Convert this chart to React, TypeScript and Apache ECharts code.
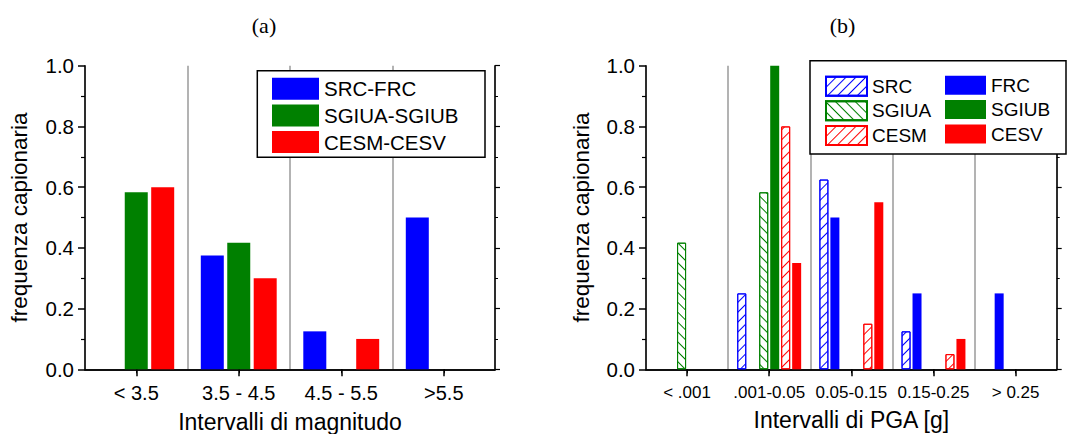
import React, { useEffect, useRef } from "react";
import * as echarts from "echarts";

// ---------- data ----------
const magCategories = ["< 3.5", "3.5 - 4.5", "4.5 - 5.5", ">5.5"];
const magSrcFrc = [null, 0.375, 0.125, 0.5];
const magSgiuaSgiub = [0.583, 0.417, null, null];
const magCesmCesv = [0.6, 0.3, 0.1, null];

const pgaCategories = ["< .001", ".001-0.05", "0.05-0.15", "0.15-0.25", "> 0.25"];
const pgaSRC = [null, 0.25, 0.625, 0.125, null];
const pgaFRC = [null, null, 0.5, 0.25, 0.25];
const pgaSGIUA = [0.417, 0.583, null, null, null];
const pgaSGIUB = [null, 1.0, null, null, null];
const pgaCESM = [null, 0.8, 0.15, 0.05, null];
const pgaCESV = [null, 0.35, 0.55, 0.1, null];

const yTicks = [0, 1, 0.2];

const BLUE = "#0000ff";
const GREEN = "#008000";
const RED = "#ff0000";
const FONT = "'Liberation Sans', Arial, sans-serif";

const hatch = (color: string, dir: number) => ({
  symbol: "rect",
  symbolSize: 1,
  dashArrayX: [1, 0],
  dashArrayY: [1, 6],
  rotation: (dir * Math.PI) / 4,
  color,
});

export default function App() {
  const ref = useRef<HTMLDivElement>(null);
  useEffect(() => {
    document.body.style.margin = "0";
    const chart = echarts.init(ref.current!, undefined, { renderer: "svg" });

    const xAxisCommon = (gridIndex: number, data: string[], name: string, labelSize: number, labelMargin: number, nameGap: number) => [
      {
        type: "category",
        gridIndex,
        data,
        position: "bottom",
        name,
        nameLocation: "middle",
        nameGap,
        nameTextStyle: { fontSize: 23, color: "#000", fontFamily: FONT },
        axisLine: { show: true, lineStyle: { color: "#000", width: 1.5 } },
        axisTick: { show: true, alignWithLabel: true, length: 7, inside: false, lineStyle: { color: "#000", width: 1.5 } },
        axisLabel: { interval: 0, fontSize: labelSize, color: "#000", fontFamily: FONT, margin: labelMargin },
        splitLine: { show: true, lineStyle: { color: "#9a9a9a", width: 1.5 } },
      },
      {
        type: "category",
        gridIndex,
        data,
        position: "top",
        axisLine: { show: true, lineStyle: { color: "#000", width: 1.5 } },
        axisTick: { show: true, alignWithLabel: true, length: 4, inside: true, lineStyle: { color: "#000" } },
        axisLabel: { show: false },
        splitLine: { show: false },
      },
    ];

    const yAxisCommon = (gridIndex: number, nameGap: number) => [
      {
        type: "value",
        gridIndex,
        min: yTicks[0],
        max: yTicks[1],
        interval: yTicks[2],
        position: "left",
        name: "frequenza capionaria",
        nameLocation: "middle",
        nameGap,
        nameTextStyle: { fontSize: 22.5, color: "#000", fontFamily: FONT },
        axisLine: { show: true, lineStyle: { color: "#000", width: 1.5 } },
        axisTick: { show: true, length: 7, lineStyle: { color: "#000", width: 1.5 } },
        minorTick: { show: true, splitNumber: 2, length: 4, lineStyle: { color: "#000", width: 1.2 } },
        axisLabel: { fontSize: 20.5, color: "#000", fontFamily: FONT, margin: 11, formatter: (v: number) => v.toFixed(1) },
        splitLine: { show: false },
      },
      {
        type: "value",
        gridIndex,
        min: yTicks[0],
        max: yTicks[1],
        interval: yTicks[2],
        position: "right",
        axisLine: { show: true, lineStyle: { color: "#000", width: 1.5 } },
        axisTick: { show: true, length: 5, lineStyle: { color: "#000", width: 1.2 } },
        minorTick: { show: true, splitNumber: 2, length: 3, lineStyle: { color: "#000" } },
        axisLabel: { show: false },
        splitLine: { show: false },
      },
    ];

    const solid = (name: string, data: any[], color: string, xi: number, yi: number, bw: number, gap: string) => ({
      name,
      type: "bar",
      xAxisIndex: xi,
      yAxisIndex: yi,
      data,
      barWidth: bw,
      barGap: gap,
      itemStyle: { color },
      z: 2,
    });
    const hatched = (name: string, data: any[], color: string, dir: number, xi: number, yi: number, bw: number, gap: string) => ({
      name,
      type: "bar",
      xAxisIndex: xi,
      yAxisIndex: yi,
      data,
      barWidth: bw,
      barGap: gap,
      itemStyle: { color: "#fff", borderColor: color, borderWidth: 1, decal: hatch(color, dir) },
      z: 2,
    });

    const legendText = (size: number, lh: number) => ({ fontSize: size, lineHeight: lh, color: "#000", fontFamily: FONT });

    chart.setOption({
      animation: false,
      grid: [
        { left: 85, right: 572, top: 65.7, bottom: 64.7, containLabel: false, outerBoundsMode: "none" },
        { left: 646, right: 10.3, top: 65.7, bottom: 64.7, containLabel: false, outerBoundsMode: "none" },
      ],
      xAxis: [
        ...xAxisCommon(0, magCategories, "Intervalli di magnitudo", 20, 14, 41),
        ...xAxisCommon(1, pgaCategories, "Intervalli di PGA [g]", 17, 15, 39.5),
      ],
      yAxis: [...yAxisCommon(0, 54), ...yAxisCommon(1, 53)],
      legend: [
        {
          orient: "vertical",
          left: 272,
          top: 77.7,
          padding: 0,
          itemWidth: 47,
          itemHeight: 22,
          itemGap: 4.7,
          icon: "rect",
          textStyle: legendText(20.5, 22),
          data: ["SRC-FRC", "SGIUA-SGIUB", "CESM-CESV"],
        },
        {
          orient: "vertical",
          left: 825,
          top: 75.7,
          padding: 0,
          itemWidth: 41,
          itemHeight: 19,
          itemGap: 3.6,
          icon: "rect",
          textStyle: legendText(19, 19),
          data: ["SRC", "SGIUA", "CESM"],
        },
        {
          orient: "vertical",
          left: 945,
          top: 75.7,
          padding: 0,
          itemWidth: 41,
          itemHeight: 19,
          itemGap: 5.4,
          icon: "rect",
          textStyle: legendText(19, 19),
          data: ["FRC", "SGIUB", "CESV"],
        },
      ],
      graphic: [
        {
          type: "rect",
          z: 3,
          shape: { x: 257.3, y: 70.7, width: 227.7, height: 86.6 },
          style: { fill: "#fff", stroke: "#000", lineWidth: 1.5 },
        },
        {
          type: "rect",
          z: 3,
          shape: { x: 810, y: 60.7, width: 256, height: 93.3 },
          style: { fill: "#fff", stroke: "#000", lineWidth: 1.5 },
        },
        {
          type: "text",
          x: 264,
          y: 25,
          style: { text: "(a)", font: "22px 'Liberation Serif', 'Times New Roman', serif", fill: "#000", textAlign: "center", textVerticalAlign: "middle" },
        },
        {
          type: "text",
          x: 842.5,
          y: 25,
          style: { text: "(b)", font: "22px 'Liberation Serif', 'Times New Roman', serif", fill: "#000", textAlign: "center", textVerticalAlign: "middle" },
        },
      ],
      series: [
        solid("SRC-FRC", magSrcFrc, BLUE, 0, 0, 23, "15%"),
        solid("SGIUA-SGIUB", magSgiuaSgiub, GREEN, 0, 0, 23, "15%"),
        solid("CESM-CESV", magCesmCesv, RED, 0, 0, 23, "15%"),
        hatched("SRC", pgaSRC, BLUE, -1, 2, 2, 9, "22%"),
        solid("FRC", pgaFRC, BLUE, 2, 2, 9, "22%"),
        hatched("SGIUA", pgaSGIUA, GREEN, 1, 2, 2, 9, "22%"),
        solid("SGIUB", pgaSGIUB, GREEN, 2, 2, 9, "22%"),
        hatched("CESM", pgaCESM, RED, -1, 2, 2, 9, "22%"),
        solid("CESV", pgaCESV, RED, 2, 2, 9, "22%"),
      ],
    });
    return () => chart.dispose();
  }, []);
  return <div ref={ref} style={{ width: 1067, height: 434 }} />;
}
